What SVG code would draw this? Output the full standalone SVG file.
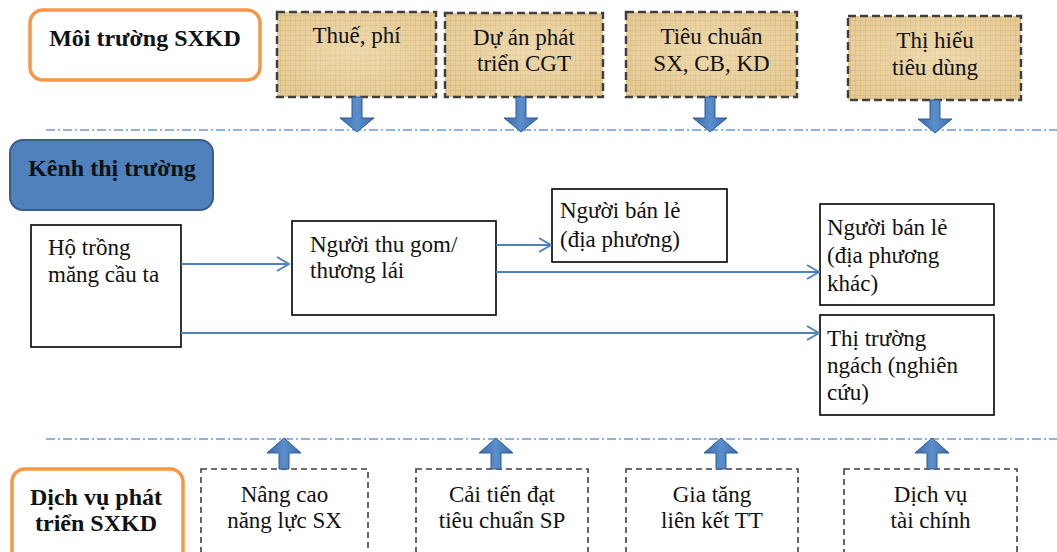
<svg xmlns="http://www.w3.org/2000/svg" width="1057" height="552" viewBox="0 0 1057 552">
<defs>
<pattern id="tex" width="5" height="5" patternUnits="userSpaceOnUse">
<rect width="5" height="5" fill="#E6CB95"/>
<path d="M0 0.5H5M0.5 0V5" stroke="#C9A86C" stroke-width="0.6" opacity="0.55"/>
</pattern>
<radialGradient id="glow" cx="0.5" cy="0.45" r="0.6">
<stop offset="0" stop-color="#F6E7C4" stop-opacity="0.55"/>
<stop offset="1" stop-color="#F6E7C4" stop-opacity="0"/>
</radialGradient>
<linearGradient id="arr" x1="0" y1="0" x2="1" y2="0">
<stop offset="0" stop-color="#3A6BAA"/>
<stop offset="0.5" stop-color="#5B8FCC"/>
<stop offset="1" stop-color="#3A6BAA"/>
</linearGradient>
<marker id="chev" viewBox="0 0 14 16" refX="13" refY="8" markerWidth="14" markerHeight="16" markerUnits="userSpaceOnUse" orient="auto">
<path d="M1 1L13 8L1 15" fill="none" stroke="#4F81BD" stroke-width="2"/>
</marker>
</defs>
<style>
.r{font-size:23px}
.b{font-size:24px;font-weight:bold}
.c{text-anchor:middle}
.env{stroke:#404040;stroke-width:2.5;stroke-dasharray:8 4}
.svc{fill:#fff;stroke:#404040;stroke-width:1.6;stroke-dasharray:6 4}
.box{fill:#fff;stroke:#000;stroke-width:1.6}
.org{fill:#fff;stroke:#F79646;stroke-width:3.5}
.dd{stroke:#6E9BD3;stroke-width:1.6;stroke-dasharray:9 3 2 3;fill:none}
.blk{fill:url(#arr);stroke:#2F5D96;stroke-width:1}
.con{fill:none;stroke:#4F81BD;stroke-width:2;marker-end:url(#chev)}
</style>

<line class="dd" x1="46" y1="130" x2="1057" y2="130"/>
<line class="dd" x1="46" y1="439" x2="1057" y2="439"/>

<g font-family="'Liberation Serif', 'DejaVu Serif', serif" fill="#111">

<g id="moi-truong">
<rect class="org" x="30" y="10" width="230" height="70" rx="13"/>
<text class="b c" x="145" y="46">Môi trường SXKD</text>
</g>

<g id="thue-phi">
<rect x="277" y="12" width="159" height="85" fill="url(#tex)"/>
<rect x="277" y="12" width="159" height="85" fill="url(#glow)"/>
<rect class="env" x="277" y="12" width="159" height="85" fill="none"/>
<text class="r c" x="356.5" y="43">Thuế, phí</text>
</g>

<g id="du-an">
<rect x="445" y="13" width="158" height="84" fill="url(#tex)"/>
<rect x="445" y="13" width="158" height="84" fill="url(#glow)"/>
<rect class="env" x="445" y="13" width="158" height="84" fill="none"/>
<text class="r c" x="524" y="45">Dự án phát</text>
<text class="r c" x="524" y="71">triển CGT</text>
</g>

<g id="tieu-chuan">
<rect x="626" y="12" width="171" height="85" fill="url(#tex)"/>
<rect x="626" y="12" width="171" height="85" fill="url(#glow)"/>
<rect class="env" x="626" y="12" width="171" height="85" fill="none"/>
<text class="r c" x="711.5" y="44">Tiêu chuẩn</text>
<text class="r c" x="711.5" y="71">SX, CB, KD</text>
</g>

<g id="thi-hieu">
<rect x="848" y="16" width="173" height="84" fill="url(#tex)"/>
<rect x="848" y="16" width="173" height="84" fill="url(#glow)"/>
<rect class="env" x="848" y="16" width="173" height="84" fill="none"/>
<text class="r c" x="935" y="48">Thị hiếu</text>
<text class="r c" x="935" y="75">tiêu dùng</text>
</g>

<g id="kenh">
<rect x="10" y="140" width="203" height="70" rx="13" fill="#4F81BD" stroke="#385D8A" stroke-width="2"/>
<text class="b c" x="112" y="176">Kênh thị trường</text>
</g>

<g id="ho-trong">
<rect class="box" x="31" y="225" width="150" height="122"/>
<text class="r" x="48" y="255">Hộ trồng</text>
<text class="r" x="48" y="282">măng cầu ta</text>
</g>

<g id="thu-gom">
<rect class="box" x="292" y="221" width="204" height="94"/>
<text class="r" x="310" y="252">Người thu gom/</text>
<text class="r" x="310" y="278">thương lái</text>
</g>

<g id="ban-le-dp">
<rect class="box" x="552" y="189" width="175" height="73"/>
<text class="r" x="560" y="218">Người bán lẻ</text>
<text class="r" x="560" y="247">(địa phương)</text>
</g>

<g id="ban-le-khac">
<rect class="box" x="820" y="204" width="174" height="101"/>
<text class="r" x="827" y="235">Người bán lẻ</text>
<text class="r" x="827" y="263">(địa phương</text>
<text class="r" x="827" y="291">khác)</text>
</g>

<g id="thi-truong-ngach">
<rect class="box" x="820" y="315" width="174" height="100"/>
<text class="r" x="827" y="346">Thị trường</text>
<text class="r" x="827" y="373">ngách (nghiên</text>
<text class="r" x="827" y="400">cứu)</text>
</g>

<g id="dich-vu-ptsx">
<rect class="org" x="12" y="469" width="171" height="110" rx="13"/>
<text class="b c" x="96" y="505">Dịch vụ phát</text>
<text class="b c" x="96" y="531">triển SXKD</text>
</g>

<g id="nang-cao">
<rect class="svc" x="201" y="469" width="167" height="110"/>
<text class="r c" x="284.5" y="502">Nâng cao</text>
<text class="r c" x="284.5" y="528">năng lực SX</text>
</g>

<g id="cai-tien">
<rect class="svc" x="416" y="469" width="172" height="110"/>
<text class="r c" x="502" y="502">Cải tiến đạt</text>
<text class="r c" x="502" y="528">tiêu chuẩn SP</text>
</g>

<g id="gia-tang">
<rect class="svc" x="626" y="469" width="172" height="110"/>
<text class="r c" x="712" y="502">Gia tăng</text>
<text class="r c" x="712" y="528">liên kết TT</text>
</g>

<g id="dich-vu-tc">
<rect class="svc" x="844" y="469" width="173" height="110"/>
<text class="r c" x="930.5" y="502">Dịch vụ</text>
<text class="r c" x="930.5" y="528">tài chính</text>
</g>

</g>

<g id="connectors">
<path class="con" d="M181 264H289"/>
<path class="con" d="M496 245H551"/>
<path class="con" d="M496 272H819"/>
<path class="con" d="M181 333H819"/>
<path class="blk" d="M352 97h10v21h12l-17 14l-17-14h12z"/>
<path class="blk" d="M516 97h10v21h12l-17 14l-17-14h12z"/>
<path class="blk" d="M705 97h10v21h12l-17 14l-17-14h12z"/>
<path class="blk" d="M930 100h10v19h12l-17 14l-17-14h12z"/>
<path class="blk" d="M279 469h10v-16h12l-17-15l-17 15h12z"/>
<path class="blk" d="M491 469h10v-16h12l-17-15l-17 15h12z"/>
<path class="blk" d="M716 469h10v-16h12l-17-15l-17 15h12z"/>
<path class="blk" d="M927 469h10v-16h12l-17-15l-17 15h12z"/>
</g>
</svg>
